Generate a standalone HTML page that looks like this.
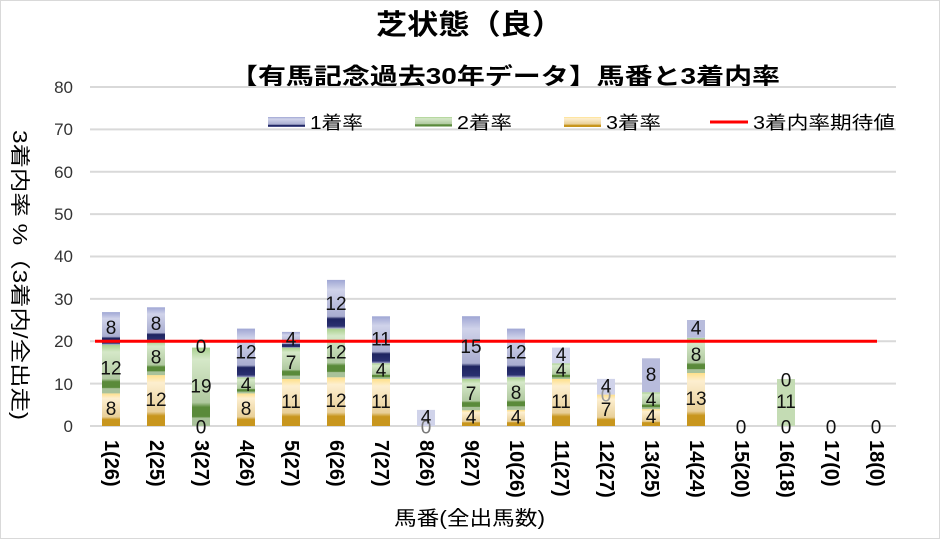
<!DOCTYPE html>
<html><head><meta charset="utf-8"><style>body{margin:0;background:#fff}svg{display:block}text{font-family:"Liberation Sans","Noto Sans CJK JP",sans-serif}</style></head><body>
<svg width="940" height="539" viewBox="0 0 940 539" xmlns="http://www.w3.org/2000/svg">
<defs>
<linearGradient id="g3" x1="0" y1="0" x2="0" y2="1"><stop offset="0" stop-color="#ffe08a"/><stop offset="0.15" stop-color="#fdefd0"/><stop offset="0.72" stop-color="#e8cf98"/><stop offset="0.8" stop-color="#c8961e"/><stop offset="1" stop-color="#c8961e"/></linearGradient>
<linearGradient id="g2" x1="0" y1="0" x2="0" y2="1"><stop offset="0" stop-color="#a8d08d"/><stop offset="0.15" stop-color="#d5e8c8"/><stop offset="0.7" stop-color="#b0c9a0"/><stop offset="0.76" stop-color="#5a8a3a"/><stop offset="0.88" stop-color="#5a8a3a"/><stop offset="0.9" stop-color="#a9c29a"/><stop offset="1" stop-color="#a9c29a"/></linearGradient>
<linearGradient id="g1" x1="0" y1="0" x2="0" y2="1"><stop offset="0" stop-color="#9fa6d4"/><stop offset="0.2" stop-color="#d0d3ea"/><stop offset="0.75" stop-color="#a9add0"/><stop offset="0.8" stop-color="#1e2460"/><stop offset="0.95" stop-color="#2a3070"/><stop offset="1" stop-color="#a9add0"/></linearGradient>
</defs>
<rect x="0.5" y="0.5" width="939" height="538" fill="#fff" stroke="#d9d9d9"/>
<text x="376" y="34" font-size="28" font-weight="bold" textLength="187" lengthAdjust="spacingAndGlyphs">芝状態（良）</text>
<text x="230" y="84" font-size="23" font-weight="bold" textLength="550" lengthAdjust="spacingAndGlyphs">【有馬記念過去30年データ】馬番と3着内率</text>
<g stroke="#d9d9d9" stroke-width="2">
<line x1="90" x2="896" y1="426" y2="426"/><line x1="90" x2="896" y1="383.6" y2="383.6"/><line x1="90" x2="896" y1="341.3" y2="341.3"/><line x1="90" x2="896" y1="298.9" y2="298.9"/><line x1="90" x2="896" y1="256.5" y2="256.5"/><line x1="90" x2="896" y1="214.1" y2="214.1"/><line x1="90" x2="896" y1="171.8" y2="171.8"/><line x1="90" x2="896" y1="129.4" y2="129.4"/><line x1="90" x2="896" y1="87" y2="87"/>
</g>
<g font-size="17" text-anchor="end" fill="#333">
<text x="73" y="432">0</text><text x="73" y="390">10</text><text x="73" y="347">20</text><text x="73" y="305">30</text><text x="73" y="262">40</text><text x="73" y="220">50</text><text x="73" y="178">60</text><text x="73" y="135">70</text><text x="73" y="93">80</text>
</g>
<text transform="translate(13,130) rotate(90)" font-size="20" textLength="290" lengthAdjust="spacingAndGlyphs">3着内率 %（3着内/全出走)</text>
<g>
<rect x="102" y="393.4" width="18" height="32.6" fill="url(#g3)"/><rect x="102" y="344.7" width="18" height="48.7" fill="url(#g2)"/><rect x="102" y="312.1" width="18" height="32.6" fill="url(#g1)"/>
<rect x="147" y="375.1" width="18" height="50.9" fill="url(#g3)"/><rect x="147" y="341.2" width="18" height="33.9" fill="url(#g2)"/><rect x="147" y="307.3" width="18" height="33.9" fill="url(#g1)"/>
<rect x="192" y="347.6" width="18" height="78.4" fill="url(#g2)"/>
<rect x="237" y="393.4" width="18" height="32.6" fill="url(#g3)"/><rect x="237" y="377.3" width="18" height="16.1" fill="url(#g2)"/><rect x="237" y="328.6" width="18" height="48.7" fill="url(#g1)"/>
<rect x="282" y="379" width="18" height="47" fill="url(#g3)"/><rect x="282" y="347.6" width="18" height="31.4" fill="url(#g2)"/><rect x="282" y="331.9" width="18" height="15.7" fill="url(#g1)"/>
<rect x="327" y="377.3" width="18" height="48.7" fill="url(#g3)"/><rect x="327" y="328.6" width="18" height="48.7" fill="url(#g2)"/><rect x="327" y="279.9" width="18" height="48.7" fill="url(#g1)"/>
<rect x="372" y="379" width="18" height="47" fill="url(#g3)"/><rect x="372" y="363.3" width="18" height="15.7" fill="url(#g2)"/><rect x="372" y="316.3" width="18" height="47" fill="url(#g1)"/>
<rect x="417" y="409.9" width="18" height="16.1" fill="#d0d3ea"/>
<rect x="462" y="410.3" width="18" height="15.7" fill="url(#g3)"/><rect x="462" y="378.9" width="18" height="31.4" fill="url(#g2)"/><rect x="462" y="316.2" width="18" height="62.7" fill="url(#g1)"/>
<rect x="507" y="409.9" width="18" height="16.1" fill="url(#g3)"/><rect x="507" y="377.3" width="18" height="32.6" fill="url(#g2)"/><rect x="507" y="328.6" width="18" height="48.7" fill="url(#g1)"/>
<rect x="552" y="379" width="18" height="47" fill="url(#g3)"/><rect x="552" y="363.3" width="18" height="15.7" fill="url(#g2)"/><rect x="552" y="347.6" width="18" height="15.7" fill="#d0d3ea"/>
<rect x="597" y="394.6" width="18" height="31.4" fill="url(#g3)"/><rect x="597" y="378.9" width="18" height="15.7" fill="#d0d3ea"/>
<rect x="642" y="409.1" width="18" height="16.9" fill="url(#g3)"/><rect x="642" y="392.2" width="18" height="16.9" fill="url(#g2)"/><rect x="642" y="358.3" width="18" height="33.9" fill="#b8bcdc"/>
<rect x="687" y="373" width="18" height="53" fill="url(#g3)"/><rect x="687" y="337.8" width="18" height="35.2" fill="url(#g2)"/><rect x="687" y="320" width="18" height="17.8" fill="#b8bcdc"/>
<rect x="777" y="379" width="18" height="47" fill="#c4dcb4"/>
</g>
<line x1="95" x2="877" y1="341.3" y2="341.3" stroke="#ff0000" stroke-width="3"/>
<g font-size="19" text-anchor="middle" dominant-baseline="central" fill="#111">
<text x="111" y="409.7">8</text><text x="111" y="369">12</text><text x="111" y="328.4">8</text>
<text x="156" y="400.6">12</text><text x="156" y="358.2">8</text><text x="156" y="324.3">8</text>
<text x="201" y="428">0</text><text x="201" y="386.8">19</text><text x="201" y="347.6">0</text>
<text x="246" y="409.7">8</text><text x="246" y="385.4">4</text><text x="246" y="353">12</text>
<text x="291" y="402.5">11</text><text x="291" y="363.3">7</text><text x="291" y="339.8">4</text>
<text x="336" y="401.7">12</text><text x="336" y="353">12</text><text x="336" y="304.3">12</text>
<text x="381" y="402.5">11</text><text x="381" y="371.2">4</text><text x="381" y="339.8">11</text>
<text x="426" y="428" fill="#777">0</text><text x="426" y="418">4</text>
<text x="471" y="418.2">4</text><text x="471" y="394.6">7</text><text x="471" y="347.6">15</text>
<text x="516" y="418">4</text><text x="516" y="393.6">8</text><text x="516" y="353">12</text>
<text x="561" y="402.5">11</text><text x="561" y="371.2">4</text><text x="561" y="355.5">4</text>
<text x="606" y="410.3">7</text><text x="606" y="396" fill="#999">0</text><text x="606" y="386.8">4</text>
<text x="651" y="417.5">4</text><text x="651" y="400.7">4</text><text x="651" y="375.3">8</text>
<text x="696" y="399.5">13</text><text x="696" y="355.4">8</text><text x="696" y="328.9">4</text>
<text x="741" y="428">0</text>
<text x="786" y="428">0</text><text x="786" y="402.5">11</text><text x="786" y="381">0</text>
<text x="831" y="428">0</text><text x="876" y="428">0</text>
</g>
<g font-size="20" font-weight="bold" dominant-baseline="central">
<text transform="translate(111,440) rotate(90)">1(26)</text>
<text transform="translate(156,440) rotate(90)">2(25)</text>
<text transform="translate(201,440) rotate(90)">3(27)</text>
<text transform="translate(246,440) rotate(90)">4(26)</text>
<text transform="translate(291,440) rotate(90)">5(27)</text>
<text transform="translate(336,440) rotate(90)">6(26)</text>
<text transform="translate(381,440) rotate(90)">7(27)</text>
<text transform="translate(426,440) rotate(90)">8(26)</text>
<text transform="translate(471,440) rotate(90)">9(27)</text>
<text transform="translate(516,440) rotate(90)">10(26)</text>
<text transform="translate(561,440) rotate(90)">11(27)</text>
<text transform="translate(606,440) rotate(90)">12(27)</text>
<text transform="translate(651,440) rotate(90)">13(25)</text>
<text transform="translate(696,440) rotate(90)">14(24)</text>
<text transform="translate(741,440) rotate(90)">15(20)</text>
<text transform="translate(786,440) rotate(90)">16(18)</text>
<text transform="translate(831,440) rotate(90)">17(0)</text>
<text transform="translate(876,440) rotate(90)">18(0)</text>
</g>
<text x="394" y="525" font-size="20" textLength="151" lengthAdjust="spacingAndGlyphs">馬番(全出馬数)</text>
<g font-size="18">
<rect x="268" y="117" width="37" height="10" fill="url(#g1)"/><text x="310" y="129" textLength="53" lengthAdjust="spacingAndGlyphs">1着率</text>
<rect x="415" y="117" width="37" height="10" fill="url(#g2)"/><text x="457" y="129" textLength="55" lengthAdjust="spacingAndGlyphs">2着率</text>
<rect x="564" y="117" width="37" height="10" fill="url(#g3)"/><text x="606" y="129" textLength="55" lengthAdjust="spacingAndGlyphs">3着率</text>
<line x1="710" x2="748" y1="122" y2="122" stroke="#ff0000" stroke-width="3"/><text x="753" y="129" textLength="142" lengthAdjust="spacingAndGlyphs">3着内率期待値</text>
</g>
</svg>
</body></html>
